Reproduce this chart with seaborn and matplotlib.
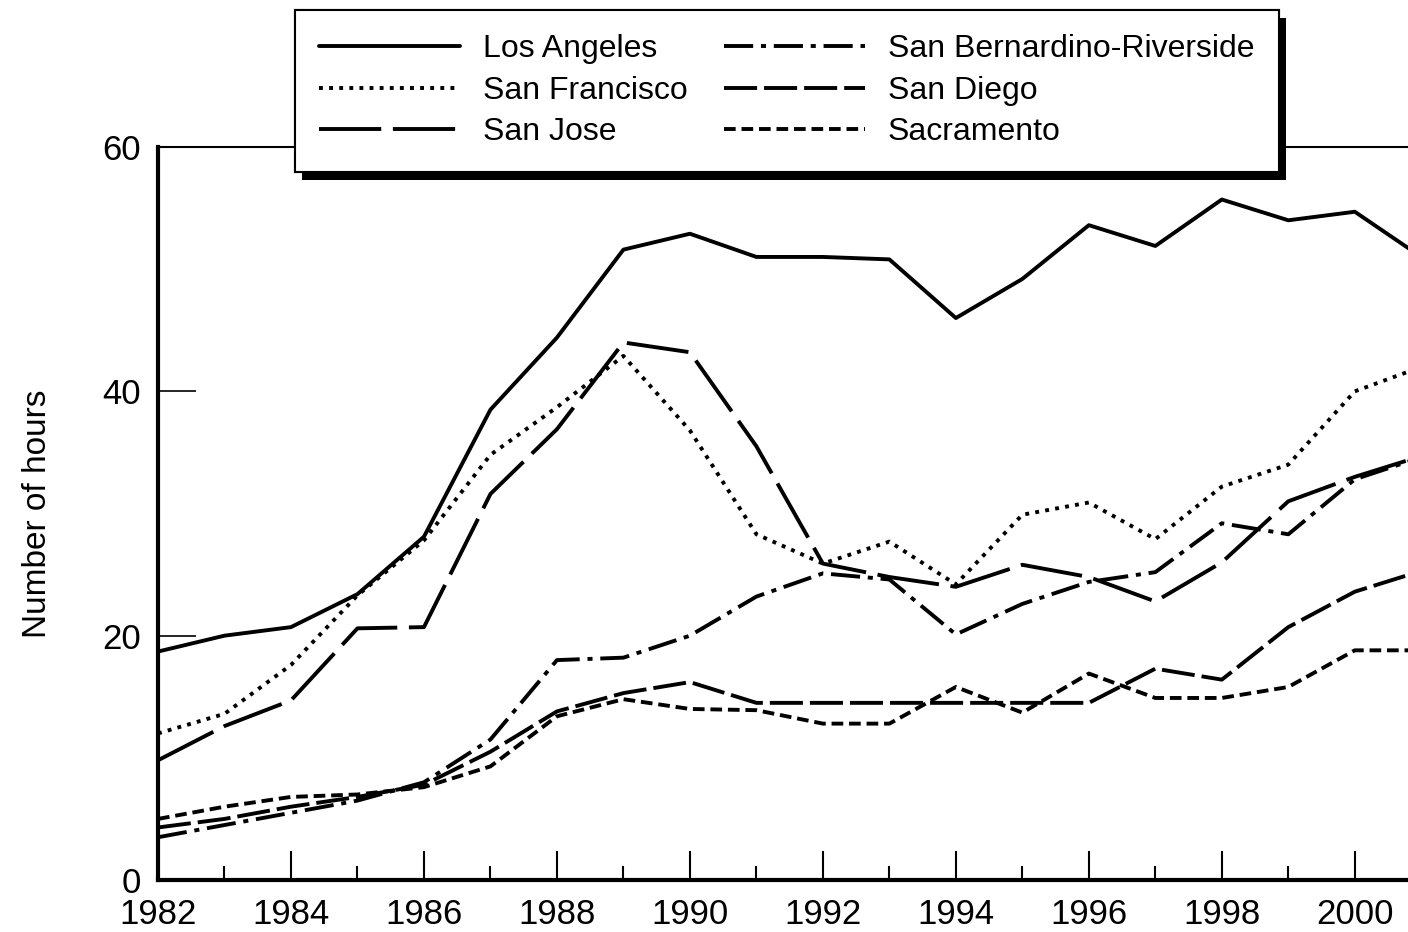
import pandas as pd

import matplotlib
matplotlib.use("Agg")

import matplotlib.pyplot as plt
import matplotlib.patheffects as pe
import seaborn as sns

# -----------------------------
# Data (hours of delay per year)
# -----------------------------
years = list(range(1982, 2002))

cities = [
    "Los Angeles",
    "San Francisco",
    "San Jose",
    "San Bernardino-Riverside",
    "San Diego",
    "Sacramento",
]

los_angeles = [18.7, 20.0, 20.7, 23.4, 28.1, 38.5, 44.4, 51.6, 52.9, 51.0,
               51.0, 50.8, 46.0, 49.2, 53.6, 51.9, 55.7, 54.0, 54.7, 51.0]
san_francisco = [12.0, 13.6, 17.6, 23.3, 27.8, 34.8, 38.7, 42.9, 36.8, 28.3,
                 25.9, 27.7, 24.2, 29.9, 30.9, 27.9, 32.2, 34.0, 40.0, 42.0]
san_jose = [9.8, 12.6, 14.7, 20.6, 20.7, 31.6, 36.9, 44.0, 43.2, 35.5,
            25.9, 24.8, 24.0, 25.8, 24.8, 22.8, 26.0, 31.0, 33.0, 34.7]
san_bernardino = [3.5, 4.5, 5.5, 6.5, 8.0, 11.5, 18.0, 18.2, 20.0, 23.2,
                  25.1, 24.6, 20.1, 22.6, 24.4, 25.2, 29.2, 28.3, 32.8, 34.6]
san_diego = [4.3, 5.0, 6.0, 6.8, 7.8, 10.5, 13.8, 15.3, 16.2, 14.5,
             14.5, 14.5, 14.5, 14.5, 14.5, 17.3, 16.4, 20.7, 23.6, 25.3]
sacramento = [5.0, 6.0, 6.8, 7.0, 7.6, 9.3, 13.4, 14.8, 14.0, 13.9,
              12.8, 12.8, 15.8, 13.7, 16.9, 14.9, 14.9, 15.8, 18.8, 18.8]

series = [los_angeles, san_francisco, san_jose,
          san_bernardino, san_diego, sacramento]

df = pd.concat(
    [pd.DataFrame({"year": years, "hours": vals, "city": name})
     for name, vals in zip(cities, series)],
    ignore_index=True,
)

# dash patterns (in line-width units)
dash_map = {
    "Los Angeles": "",
    "San Francisco": (1.0, 1.6),
    "San Jose": (16, 3),
    "San Bernardino-Riverside": (7.5, 2, 1.3, 2),
    "San Diego": (8.5, 1.8),
    "Sacramento": (3, 1.5),
}

# -----------------------------
# Style
# -----------------------------
sns.set_theme(style="white", rc={
    "axes.edgecolor": "black",
    "xtick.color": "black",
    "ytick.color": "black",
    "text.color": "black",
    "axes.labelcolor": "black",
})
plt.rcParams["font.family"] = ["Liberation Sans", "DejaVu Sans"]

W, H = 1408, 932
fig = plt.figure(figsize=(W / 100, H / 100), dpi=100)
ax = fig.add_axes([158 / W, 52 / H, 1250 / W, 733 / H])

sns.lineplot(
    data=df, x="year", y="hours",
    style="city", style_order=cities, dashes=dash_map,
    color="black", linewidth=2.8, errorbar=None, legend=False, ax=ax,
)

# -----------------------------
# Axes
# -----------------------------
ax.set_xlim(1982, 2000.8)
ax.set_ylim(0, 60)
ax.set_xticks(range(1982, 2001, 2))
ax.set_xticks(range(1983, 2001, 2), minor=True)
ax.set_yticks([0, 20, 40, 60])

ax.tick_params(axis="x", which="major", direction="in", length=21,
               width=1.5, labelsize=25, pad=13, bottom=True)
ax.tick_params(axis="x", which="minor", direction="in", length=10,
               width=1.5, bottom=True)
ax.tick_params(axis="y", direction="in", length=27, width=1.2,
               labelsize=25, pad=12, left=True)

ax.spines["left"].set_linewidth(3)
ax.spines["bottom"].set_linewidth(3)
ax.spines["top"].set_linewidth(1.5)
ax.spines["right"].set_visible(False)

ax.set_xlabel("")
ax.set_ylabel("Number of hours", fontsize=24)
ax.yaxis.set_label_coords(-0.084, 0.5)

# -----------------------------
# Legend with drop shadow
# -----------------------------
leg = ax.legend(
    ax.get_lines()[:len(cities)], cities,
    ncol=2, loc="upper left",
    bbox_to_anchor=(295 / W, 1 - 10 / H), bbox_transform=fig.transFigure,
    frameon=True, fancybox=False, edgecolor="black", framealpha=1,
    fontsize=23, handlelength=4.4, handletextpad=0.72,
    labelspacing=0.36, borderpad=0.76, columnspacing=1.15, borderaxespad=0,
)
frame = leg.get_frame()
frame.set_linewidth(1.5)
frame.set_path_effects([
    pe.withSimplePatchShadow(offset=(5, -6), shadow_rgbFace="black", alpha=1.0),
    pe.Normal(),
])

fig.savefig("out.png", dpi=100)
plt.close()
